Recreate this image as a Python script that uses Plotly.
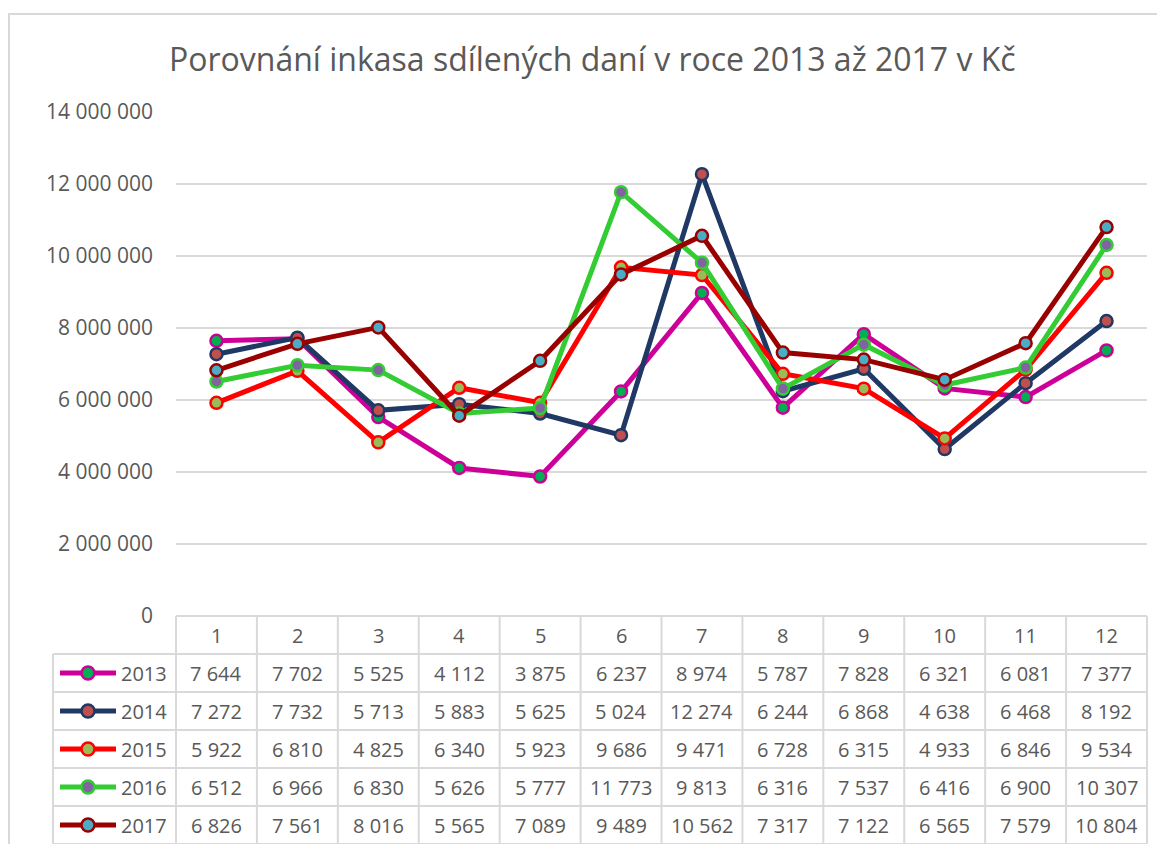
import plotly.graph_objects as go

months = [1, 2, 3, 4, 5, 6, 7, 8, 9, 10, 11, 12]
years = ["2013", "2014", "2015", "2016", "2017"]
v2013 = [7644, 7702, 5525, 4112, 3875, 6237, 8974, 5787, 7828, 6321, 6081, 7377]
v2014 = [7272, 7732, 5713, 5883, 5625, 5024, 12274, 6244, 6868, 4638, 6468, 8192]
v2015 = [5922, 6810, 4825, 6340, 5923, 9686, 9471, 6728, 6315, 4933, 6846, 9534]
v2016 = [6512, 6966, 6830, 5626, 5777, 11773, 9813, 6316, 7537, 6416, 6900, 10307]
v2017 = [6826, 7561, 8016, 5565, 7089, 9489, 10562, 7317, 7122, 6565, 7579, 10804]
series = [v2013, v2014, v2015, v2016, v2017]
line_colors = ["#CC0099", "#1F3864", "#FF0000", "#33CC33", "#990000"]
marker_colors = ["#00B050", "#C0504D", "#9BBB59", "#8064A2", "#4BACC6"]
yticks = [0, 2000000, 4000000, 6000000, 8000000, 10000000, 12000000, 14000000]

OFF = 8  # page body margin
W, H = 1165 - 2 * OFF, 852 - 2 * OFF
# desired screen positions
SL, SR, ST, SB = 176, 1147, 112, 616
L, R, T, B = SL - OFF, SR - OFF, ST - OFF, SB - OFF
FONT = "Open Sans, sans-serif"
GRAY = "#595959"
BORDER = "#D9D9D9"

def fmt(n):
    return f"{n:,}".replace(",", " ")

def px(x):
    return (x - SL) / (SR - SL)

def py(y):
    return (SB - y) / (SB - ST)

fig = go.Figure()
for name, vals, lc, mc in zip(years, series, line_colors, marker_colors):
    fig.add_trace(go.Scatter(
        x=months, y=[v * 1000 for v in vals], name=name, mode="lines+markers",
        line=dict(color=lc, width=5),
        marker=dict(size=12, color=mc, line=dict(color=lc, width=2.5)),
        showlegend=False, cliponaxis=False,
    ))

shapes = []
annotations = []
shapes.append(dict(type="rect", xref="paper", yref="paper", x0=px(9), x1=px(1180),
                   y0=py(870), y1=py(14), line=dict(color=BORDER, width=2), layer="below"))

rows_y = [616, 654, 692, 730, 768, 806, 844]
col_w = (SR - SL) / 12
for i, yy in enumerate(rows_y):
    x0 = SL if i == 0 else 53
    shapes.append(dict(type="line", xref="paper", yref="paper", x0=px(x0), x1=px(SR),
                       y0=py(yy), y1=py(yy), line=dict(color=BORDER, width=2)))
for j in range(13):
    xx = SL + j * col_w
    shapes.append(dict(type="line", xref="paper", yref="paper", x0=px(xx), x1=px(xx),
                       y0=py(616), y1=py(844), line=dict(color=BORDER, width=2)))
shapes.append(dict(type="line", xref="paper", yref="paper", x0=px(53), x1=px(53),
                   y0=py(654), y1=py(844), line=dict(color=BORDER, width=2)))

for m in months:
    annotations.append(dict(x=m, xref="x", y=py(635), yref="paper", text=str(m),
                            xanchor="center", yanchor="middle",
                            showarrow=False, font=dict(size=20, color=GRAY, family=FONT)))
for r, (name, vals, lc, mc) in enumerate(zip(years, series, line_colors, marker_colors)):
    cy = (rows_y[r + 1] + rows_y[r + 2]) / 2
    for m, v in zip(months, vals):
        annotations.append(dict(x=m, xref="x", y=py(cy), yref="paper", text=fmt(v),
                                xanchor="center", yanchor="middle",
                                showarrow=False, font=dict(size=20, color=GRAY, family=FONT)))
    annotations.append(dict(x=px(119), xref="paper", y=py(cy), yref="paper", text=name,
                            xanchor="left", yanchor="middle", showarrow=False,
                            font=dict(size=20, color=GRAY, family=FONT)))
    shapes.append(dict(type="line", xref="paper", yref="paper", x0=px(60), x1=px(116),
                       y0=py(cy), y1=py(cy), line=dict(color=lc, width=5)))
    shapes.append(dict(type="circle", xref="paper", yref="paper", x0=px(81.5), x1=px(94.5),
                       y0=py(cy + 6.5), y1=py(cy - 6.5), fillcolor=mc, line=dict(color=lc, width=2.5)))

annotations.append(dict(x=px(592), xref="paper", y=py(59), yref="paper",
                        text="Porovnání inkasa sdílených daní v roce 2013 až 2017 v Kč",
                        xanchor="center", yanchor="middle",
                        showarrow=False, font=dict(size=32, color=GRAY, family=FONT)))

fig.update_layout(
    template="none",
    width=W, height=H,
    margin=dict(l=L, r=W - R, t=T, b=H - B, pad=0, autoexpand=False),
    paper_bgcolor="white", plot_bgcolor="white",
    xaxis=dict(range=[0.5, 12.5], showticklabels=False, showgrid=False, zeroline=False,
               showline=False, ticks="", automargin=False),
    yaxis=dict(range=[0, 14000000], tickvals=yticks, ticktext=[fmt(t) for t in yticks],
               showgrid=True, gridcolor=BORDER, gridwidth=2, zeroline=False, showline=False,
               ticks="", ticklabelstandoff=22, automargin=False,
               tickfont=dict(size=21, color=GRAY, family=FONT)),
    shapes=shapes, annotations=annotations,
)
fig.write_html("out.html")
